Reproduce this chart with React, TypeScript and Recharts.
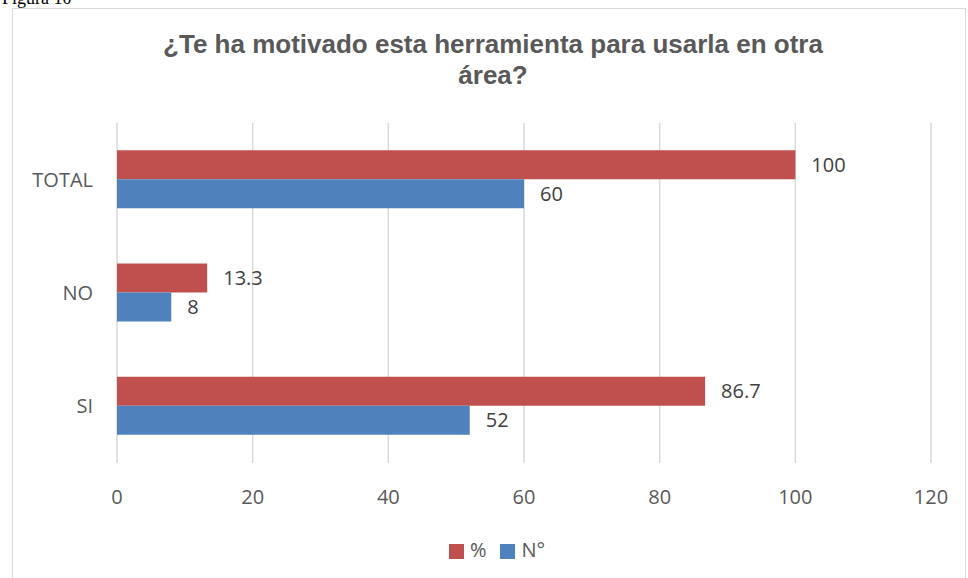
import { BarChart, Bar, XAxis, YAxis, CartesianGrid, Legend, LabelList } from 'recharts'

// categories top to bottom, as in the reference
const categories = ['TOTAL', 'NO', 'SI']
const percentValues = [100, 13.3, 86.7]
const countValues = [60, 8, 52]
const xTicks = [0, 20, 40, 60, 80, 100, 120]

const RED = '#C0504D'
const BLUE = '#4F81BD'
const TEXT = '#595959'
const GRID = '#D9D9D9'
const FONT = '"Open Sans", sans-serif'

const data = categories.map((name, i) => ({
  name,
  pct: percentValues[i],
  n: countValues[i],
}))

export default function App() {
  return (
    <div
      style={{
        position: 'absolute',
        left: 0,
        top: 0,
        width: 968,
        height: 578,
        background: '#fff',
        overflow: 'hidden',
      }}
    >
      <div
        style={{
          position: 'absolute',
          left: 2,
          top: -12,
          fontFamily: '"Liberation Serif", serif',
          fontSize: 18,
          color: '#000',
        }}
      >
        Figura 10
      </div>
      {/* chart frame */}
      <div
        style={{
          position: 'absolute',
          left: 12,
          top: 8,
          width: 954,
          height: 580,
          border: `1.5px solid ${GRID}`,
          boxSizing: 'border-box',
        }}
      />
      <div
        style={{
          position: 'absolute',
          left: 0,
          width: 986,
          top: 29,
          textAlign: 'center',
          fontFamily: '"Liberation Sans", Arial, sans-serif',
          fontWeight: 'bold',
          fontSize: 26,
          lineHeight: '31px',
          color: TEXT,
        }}
      >
        ¿Te ha motivado esta herramienta para usarla en otra
        <br />
        área?
      </div>
      <div style={{ position: 'absolute', left: 0, top: 0 }}>
        <BarChart
          width={968}
          height={578}
          data={data}
          layout="vertical"
          barCategoryGap="24%"
          barGap={0}
          margin={{ top: 123, right: 37, bottom: 65, left: 17 }}
        >
          <CartesianGrid horizontal={false} stroke={GRID} strokeWidth={1.5} />
          <XAxis
            type="number"
            domain={[0, 120]}
            ticks={xTicks}
            axisLine={false}
            tickLine={false}
            tickMargin={21}
            height={50}
            tick={{ fill: TEXT, fontSize: 20, fontFamily: FONT }}
          />
          <YAxis
            type="category"
            dataKey="name"
            width={100}
            axisLine={false}
            tickLine={false}
            tickMargin={18}
            tick={{ fill: TEXT, fontSize: 20, fontFamily: FONT }}
          />
          <Legend
            verticalAlign="middle"
            align="center"
            iconType="square"
            iconSize={15}
            wrapperStyle={{ top: 536, left: 20, width: 968, fontFamily: FONT, fontSize: 20 }}
            formatter={(value: string) => (
              <span style={{ color: TEXT, marginLeft: 2, marginRight: 4 }}>{value}</span>
            )}
          />
          <Bar dataKey="pct" name="%" fill={RED} isAnimationActive={false}>
            <LabelList
              dataKey="pct"
              position="right"
              offset={16}
              fill="#404040"
              fontSize={20}
              fontFamily={FONT}
            />
          </Bar>
          <Bar dataKey="n" name="N°" fill={BLUE} isAnimationActive={false}>
            <LabelList
              dataKey="n"
              position="right"
              offset={16}
              fill="#404040"
              fontSize={20}
              fontFamily={FONT}
            />
          </Bar>
        </BarChart>
      </div>
    </div>
  )
}
